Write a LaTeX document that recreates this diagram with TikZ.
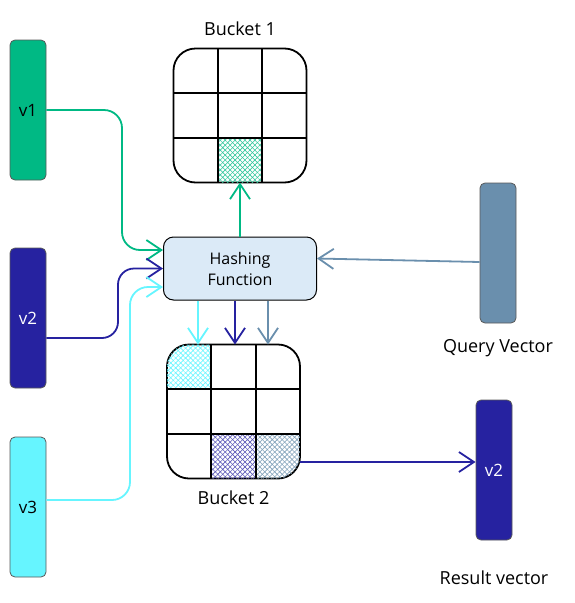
\documentclass[tikz,border=0pt]{standalone}
\usepackage{fontspec}
\setmainfont{Open Sans}
\usetikzlibrary{positioning, calc, arrows.meta, patterns.meta}
\definecolor{vone}{RGB}{0,185,132}
\definecolor{vtwo}{RGB}{38,34,160}
\definecolor{vthree}{RGB}{102,245,255}
\definecolor{vquery}{RGB}{106,143,173}
\definecolor{hashfill}{RGB}{219,234,247}
\tikzset{%
    vec/.style={draw=black!65, line width=.8pt, rounded corners=5pt, minimum width=36pt, minimum height=140pt, inner sep=0pt, font=\fontsize{17}{20}\selectfont},
    bucket/.style={draw=black, line width=1.8pt, rounded corners=22pt, minimum width=133pt, minimum height=134pt, inner sep=0pt, outer sep=0pt},
    gridline/.style={line width=1.8pt},
    hashbox/.style={draw=black, line width=1pt, fill=hashfill, rounded corners=10pt, minimum width=153pt, minimum height=63pt, align=center, font=\fontsize{16}{21}\selectfont},
    lab/.style={font=\fontsize{18}{21}\selectfont},
    link/.style={line width=1.8pt, -{Straight Barb[length=15pt,width=20pt,line width=1.8pt]}},
    hatcha/.style={pattern={Lines[angle=45,distance=3.5pt,line width=.6pt]}, pattern color=#1},
    hatchb/.style={pattern={Lines[angle=-45,distance=3.5pt,line width=.6pt]}, pattern color=#1}
}
\begin{document}
\begin{tikzpicture}[x=1pt,y=-1pt]
    \useasboundingbox (0,0) rectangle (575,603);
    % input vectors
    \node[vec, fill=vone] (v1) at (28,110){v1};
    \node[vec, fill=vtwo, text=white] (v2) at (28,318){v2};
    \node[vec, fill=vthree] (v3) at (28,507){v3};
    \node[vec, fill=vquery] (q) at (498,253){};
    \node[vec, fill=vtwo, text=white] (r) at (494,470){v2};
    \node[lab, below=13pt of q] (qlab){Query Vector};
    \node[lab, below=27pt of r] (rlab){Result vector};
    % hashing and buckets
    \node[hashbox] (h) at (240,268.5){Hashing\\Function};
    \node[bucket] (b1) at (240,115.5){};
    \node[bucket] (b2) at (233.5,411.5){};
    \node[lab, above=9pt of b1] (b1lab){Bucket 1};
    \node[lab, below=9pt of b2] (b2lab){Bucket 2};
    \begin{scope}
        \clip[rounded corners=22pt] (b1.north west) rectangle (b1.south east);
        \foreach \s in {hatcha, hatchb}
            \fill[\s=vone!80] ($(b1.south west)!1/3!(b1.south east)$) rectangle ($(b1.north west)!2/3!(b1.south east)$);
    \end{scope}
    \begin{scope}
        \clip[rounded corners=22pt] (b2.north west) rectangle (b2.south east);
        \foreach \s in {hatcha, hatchb} {
            \fill[\s=vthree] (b2.north west) rectangle ($(b2.north west)!1/3!(b2.south east)$);
            \fill[\s=vtwo!75] ($(b2.south west)!1/3!(b2.south east)$) rectangle ($(b2.north west)!2/3!(b2.south east)$);
            \fill[\s=vquery!85] ($(b2.north west)!2/3!(b2.south east)$) rectangle (b2.south east);
        }
    \end{scope}
    \foreach \b in {b1, b2}
        \foreach \f in {1/3, 2/3} {
            \draw[gridline] ($(\b.north west)!\f!(\b.north east)$) -- ($(\b.south west)!\f!(\b.south east)$);
            \draw[gridline] ($(\b.north west)!\f!(\b.south west)$) -- ($(\b.north east)!\f!(\b.south east)$);
        }
    % connectors
    \coordinate (in1) at (163,250);
    \coordinate (in3) at (163,287);
    \draw[link, vone, rounded corners=18pt] (v1.east) -| (122,200) |- (in1);
    \draw[link, vtwo, rounded corners=16pt] ([yshift=-20pt]v2.east) -| (118,300) |- (h.west);
    \draw[link, vthree, rounded corners=18pt] ([yshift=7pt]v3.east) -| (130,350) |- (in3);
    \draw[link, vone] (h.north) -- (b1.south);
    \draw[link, vquery] ([yshift=-9pt]q.west) -- ([yshift=10pt]h.east);
    \foreach \x/\c in {198/vthree, 235/vtwo, 268/vquery}
        \draw[link, \c] (h.south -| \x,0) -- (b2.north -| \x,0);
    \coordinate (b2out) at ([yshift=-50.5pt]b2.east);
    \draw[link, vtwo] (b2out) -- (b2out -| r.west);
\end{tikzpicture}
\end{document}
